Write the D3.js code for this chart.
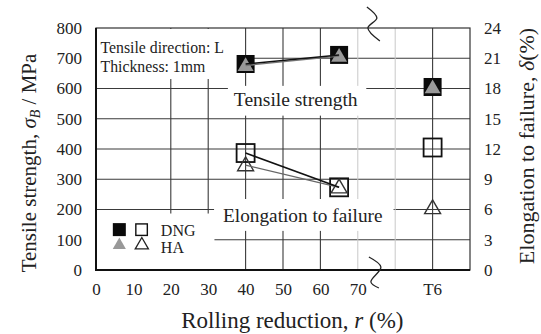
<!DOCTYPE html>
<html>
<head>
<meta charset="utf-8">
<script src="https://cdn.jsdelivr.net/npm/d3@7"></script>
<style>
  html, body { margin: 0; padding: 0; background: #fff; }
  svg { display: block; font-family: "Liberation Serif", "Times New Roman", serif; }
</style>
</head>
<body>
<div id="chart"></div>
<script>
// --- Data ---
const rollPos = [40, 65, 90];                 // 90 = position of T6 on the x axis
const xTicks = [0, 10, 20, 30, 40, 50, 60, 70];
const xTickExtra = [{ v: 90, label: "T6" }];
const yLeftTicks = [0, 100, 200, 300, 400, 500, 600, 700, 800];
const yRightTicks = [0, 3, 6, 9, 12, 15, 18, 21, 24];
const dngTensile = [681, 711, 605];
const haTensile = [676, 707, 603];
const dngElong = [11.6, 8.2, 12.15];
const haElong = [10.4, 8.2, 6.15];
const gridDark = [20, 30, 40, 50, 60, 90];
const gridLight = [70, 80];
const gridH = [100, 200, 300, 400, 500, 600, 700];

// --- Setup chart dimensions ---
const width = 541, height = 334;
const margin = { top: 28, right: 71, bottom: 64, left: 96 };

const x = d3.scaleLinear().domain([0, 100]).range([margin.left, width - margin.right]);
const y = d3.scaleLinear().domain([0, 800]).range([height - margin.bottom, margin.top]);
const y2 = d3.scaleLinear().domain([0, 24]).range([height - margin.bottom, margin.top]);

const svg = d3.select("#chart").append("svg")
  .attr("width", width)
  .attr("height", height);

// --- Grid ---
svg.append("g").selectAll("line").data(gridH).join("line")
  .attr("x1", x(0)).attr("x2", x(100))
  .attr("y1", d => y(d)).attr("y2", d => y(d))
  .attr("stroke", "#3a3a3a").attr("stroke-width", 1.1);
svg.append("g").selectAll("line").data(gridDark).join("line")
  .attr("x1", d => x(d)).attr("x2", d => x(d))
  .attr("y1", y(0)).attr("y2", y(800))
  .attr("stroke", "#3a3a3a").attr("stroke-width", 1.1);
svg.append("g").selectAll("line").data(gridLight).join("line")
  .attr("x1", d => x(d)).attr("x2", d => x(d))
  .attr("y1", y(0)).attr("y2", y(800))
  .attr("stroke", "#c8c8c8").attr("stroke-width", 1);

// --- White annotation boxes (cover grid behind labels) ---
const boxes = [
  [0, 38.5, 800, 628],      // condition text
  [35, 72, 612, 507],       // "Tensile strength"
  [31.3, 79.3, 238, 126],   // "Elongation to failure"
  [0, 31.4, 190, 0]         // legend
];
svg.append("g").selectAll("rect").data(boxes).join("rect")
  .attr("x", d => x(d[0]) + 1)
  .attr("y", d => y(d[2]) + 1)
  .attr("width", d => x(d[1]) - x(d[0]))
  .attr("height", d => y(d[3]) - y(d[2]) - 2)
  .attr("fill", "#fff");

// --- Frame ---
svg.append("rect")
  .attr("x", x(0)).attr("y", y(800))
  .attr("width", x(100) - x(0)).attr("height", y(0) - y(800))
  .attr("fill", "none").attr("stroke", "#333").attr("stroke-width", 1.2);
svg.append("path")
  .attr("d", `M${x(0)},${y(800)}V${y(0)}H${x(100)}`)
  .attr("fill", "none").attr("stroke", "#111").attr("stroke-width", 2);

// --- Axes ---
const tickFont = 17;
const xAxis = svg.append("g")
  .attr("transform", `translate(0,${y(0)})`)
  .call(d3.axisBottom(x).tickValues(xTicks).tickSize(0).tickPadding(13));
xAxis.append("text")
  .data(xTickExtra)
  .attr("x", d => x(d.v)).attr("y", 13).attr("dy", "0.71em")
  .attr("text-anchor", "middle")
  .text(d => d.label);

const yAxis = svg.append("g")
  .attr("transform", `translate(${x(0)},0)`)
  .call(d3.axisLeft(y).tickValues(yLeftTicks).tickSize(0).tickPadding(14));

const yAxis2 = svg.append("g")
  .attr("transform", `translate(${x(100)},0)`)
  .call(d3.axisRight(y2).tickValues(yRightTicks).tickSize(0).tickPadding(14));

[xAxis, yAxis, yAxis2].forEach(g => {
  g.select(".domain").remove();
  g.attr("font-family", null).attr("font-size", null);
  g.selectAll("text")
    .style("font-size", tickFont + "px")
    .attr("fill", "#222");
});

// --- Axis titles ---
svg.append("text")
  .attr("x", x(52.5)).attr("y", 328)
  .attr("text-anchor", "middle")
  .style("font-size", "23px").attr("fill", "#222")
  .call(t => {
    t.append("tspan").text("Rolling reduction, ");
    t.append("tspan").attr("font-style", "italic").text("r");
    t.append("tspan").text(" (%)");
  });

svg.append("text")
  .attr("transform", `translate(36,163) rotate(-90)`)
  .attr("text-anchor", "middle")
  .style("font-size", "21px").attr("fill", "#222")
  .call(t => {
    t.append("tspan").text("Tensile strength, ");
    t.append("tspan").attr("font-style", "italic").text("σ");
    t.append("tspan").attr("font-style", "italic").attr("font-size", "14px").attr("dy", 4).text("B");
    t.append("tspan").attr("dy", -4).text(" / MPa");
  });

svg.append("text")
  .attr("transform", `translate(534,146) rotate(-90)`)
  .attr("text-anchor", "middle")
  .style("font-size", "22px").attr("fill", "#222")
  .call(t => {
    t.append("tspan").text("Elongation to failure, ");
    t.append("tspan").attr("font-style", "italic").text("δ");
    t.append("tspan").text("(%)");
  });

// --- Annotations ---
svg.append("text").attr("x", x(1.2)).attr("y", y(800) + 25)
  .style("font-size", "15.8px").attr("fill", "#222").text("Tensile direction: L");
svg.append("text").attr("x", x(1.2)).attr("y", y(800) + 44)
  .style("font-size", "15.8px").attr("fill", "#222").text("Thickness: 1mm");
svg.append("text").attr("x", x(53.4)).attr("y", y(541))
  .attr("text-anchor", "middle")
  .style("font-size", "19.5px").attr("fill", "#222").text("Tensile strength");
svg.append("text").attr("x", x(55.3)).attr("y", y(160))
  .attr("text-anchor", "middle")
  .style("font-size", "19.3px").attr("fill", "#222").text("Elongation to failure");

// --- Break marks ---
const squiggle = d3.line().curve(d3.curveCatmullRom);
const xb = x(73.5);
svg.append("path")
  .attr("d", squiggle([[xb - 4, y(800) - 21], [xb + 6, y(800) - 10], [xb - 3, y(800)], [xb + 9, y(800) + 13]]))
  .attr("fill", "none").attr("stroke", "#222").attr("stroke-width", 1.3);
svg.append("path")
  .attr("d", squiggle([[xb - 2, y(0) - 13], [xb + 10, y(0) - 3], [xb, y(0) + 12], [xb + 8, y(0) + 18]]))
  .attr("fill", "none").attr("stroke", "#222").attr("stroke-width", 1.3);

// --- Markers ---
const sq = 18;
const tri = d3.symbol().type(d3.symbolTriangle).size(110);

const dngT = rollPos.map((r, i) => ({ r, v: dngTensile[i] }));
const haT = rollPos.map((r, i) => ({ r, v: haTensile[i] }));
const dngE = rollPos.map((r, i) => ({ r, v: dngElong[i] }));
const haE = rollPos.map((r, i) => ({ r, v: haElong[i] }));

svg.append("g").selectAll("rect").data(dngT).join("rect")
  .attr("x", d => x(d.r) - sq / 2).attr("y", d => y(d.v) - sq / 2)
  .attr("width", sq).attr("height", sq)
  .attr("fill", "#0a0a0a");
svg.append("g").selectAll("path").data(haT).join("path")
  .attr("d", tri)
  .attr("transform", d => `translate(${x(d.r)},${y(d.v) + 1})`)
  .attr("fill", "#999");

svg.append("g").selectAll("rect").data(dngE).join("rect")
  .attr("x", d => x(d.r) - sq / 2).attr("y", d => y2(d.v) - sq / 2)
  .attr("width", sq).attr("height", sq)
  .attr("fill", "none").attr("stroke", "#111").attr("stroke-width", 1.8);
svg.append("g").selectAll("path").data(haE).join("path")
  .attr("d", tri)
  .attr("transform", d => `translate(${x(d.r)},${y2(d.v) + 1})`)
  .attr("fill", "none").attr("stroke", "#333").attr("stroke-width", 1.4);

// --- Connecting lines (rolled samples only) ---
const line = d3.line().x(d => x(d.r)).y(d => y(d.v));
const line2 = d3.line().x(d => x(d.r)).y(d => y2(d.v));
svg.append("path").datum(haT.slice(0, 2)).attr("d", line)
  .attr("fill", "none").attr("stroke", "#777").attr("stroke-width", 1.4);
svg.append("path").datum(dngT.slice(0, 2)).attr("d", line)
  .attr("fill", "none").attr("stroke", "#111").attr("stroke-width", 1.6);
svg.append("path").datum(haE.slice(0, 2)).attr("d", line2)
  .attr("fill", "none").attr("stroke", "#666").attr("stroke-width", 1.4);
svg.append("path").datum(dngE.slice(0, 2)).attr("d", line2)
  .attr("fill", "none").attr("stroke", "#111").attr("stroke-width", 1.6);

// --- Legend ---
const lg = svg.append("g").attr("transform", `translate(${x(4.5)},${y(155)})`);
lg.append("rect").attr("x", 0).attr("y", 0).attr("width", 13).attr("height", 13).attr("fill", "#0a0a0a");
lg.append("rect").attr("x", 23).attr("y", 0.8).attr("width", 11.5).attr("height", 11.5)
  .attr("fill", "none").attr("stroke", "#111").attr("stroke-width", 1.4);
lg.append("text").attr("x", 48).attr("y", 12.5).style("font-size", "16px").attr("fill", "#222").text("DNG");
const ltri = d3.symbol().type(d3.symbolTriangle).size(75);
lg.append("path").attr("d", ltri).attr("transform", "translate(6.5,22)").attr("fill", "#999");
lg.append("path").attr("d", ltri).attr("transform", "translate(29,22)")
  .attr("fill", "none").attr("stroke", "#222").attr("stroke-width", 1.3);
lg.append("text").attr("x", 48).attr("y", 29.5).style("font-size", "16px").attr("fill", "#222").text("HA");
</script>
</body>
</html>
